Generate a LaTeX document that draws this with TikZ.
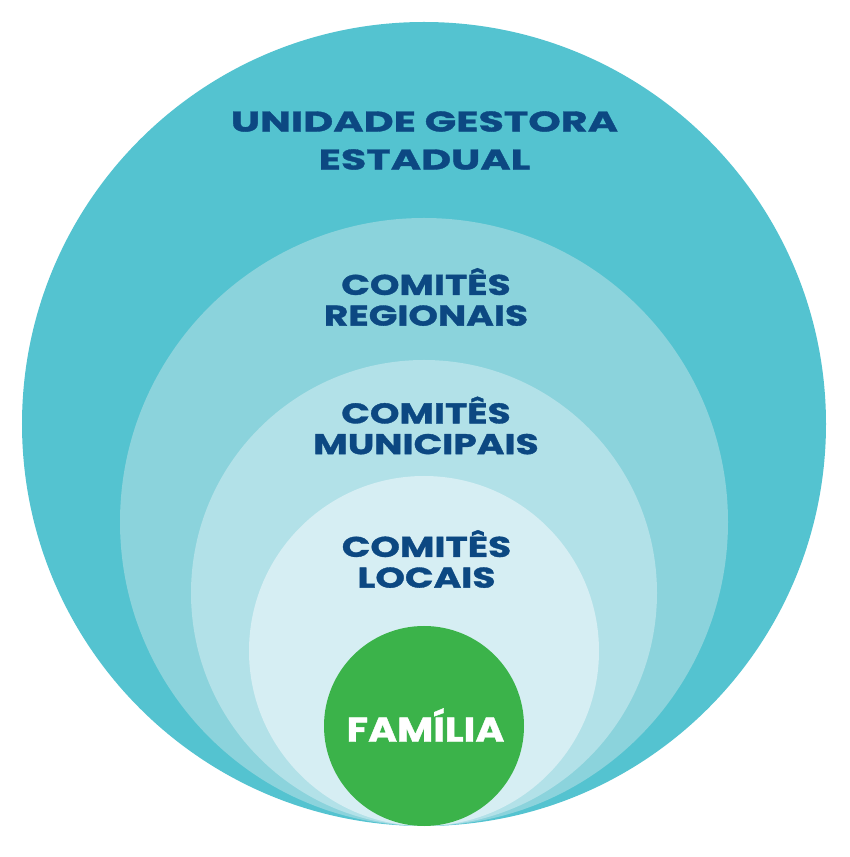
\documentclass[tikz,border=0pt]{standalone}
\usepackage{fontspec}
\newfontfamily\ringfont{Poppins}
\usepackage{tikz}
\usetikzlibrary{positioning}
\definecolor{ringouter}{RGB}{84, 195, 208}
\definecolor{ringtwo}{RGB}{139, 211, 220}
\definecolor{ringthree}{RGB}{178, 225, 232}
\definecolor{ringfour}{RGB}{214, 238, 243}
\definecolor{familygreen}{RGB}{59, 179, 74}
\definecolor{labelnavy}{RGB}{12, 72, 130}
\newcommand{\wide}[1]{\addfontfeatures{FakeStretch=#1, FakeBold=1.2}}

\begin{document}
\begin{tikzpicture}[
      ring/.style={circle, draw=none, inner sep=0pt, outer sep=0pt, anchor=south},
      lbl/.style={align=center, text=labelnavy, inner sep=0pt, font=\ringfont\bfseries\fontsize{16.2}{17.5}\selectfont\wide{1.32}}
    ]
      \useasboundingbox (0,0) rectangle (17,17.14);
      \coordinate (base) at (8.48, 0.62);

      % nested circles, all touching at the bottom
      \node[ring, fill=ringouter, minimum size=16.08cm] (estadual) at (base) {};
      \node[ring, fill=ringtwo, minimum size=12.16cm] (regional) at (base) {};
      \node[ring, fill=ringthree, minimum size=9.32cm] (municipal) at (base) {};
      \node[ring, fill=ringfour, minimum size=7cm] (local) at (base) {};
      \node[ring, fill=familygreen, minimum size=4cm] (familia) at (base) {};

      \node[lbl, font=\ringfont\bfseries\fontsize{16.2}{21.6}\selectfont\wide{1.45}] (estadualtxt) at (8.49, 14.33) {UNIDADE GESTORA\\ESTADUAL};
      \node[lbl] (regionaltxt) at (8.52, 11.2) {COMITÊS\\REGIONAIS};
      \node[lbl] (municipaltxt) at (8.52, 8.63) {COMITÊS\\MUNICIPAIS};
      \node[lbl] (localtxt) at (8.53, 5.96) {COMITÊS\\LOCAIS};
      \node[lbl, text=white, font=\ringfont\bfseries\fontsize{19.5}{22}\selectfont\wide{1.15}] (familiatxt) at (8.51, 2.64) {FAMÍLIA};
    \end{tikzpicture}
\end{document}
